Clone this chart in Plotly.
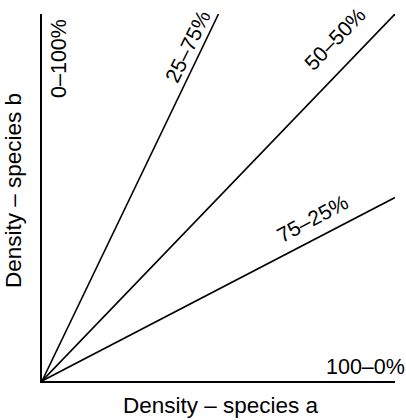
import plotly.graph_objects as go

# Data: ratio lines (species a share – species b share), drawn from origin
line_labels = ["25–75%", "50–50%", "75–25%"]
end_a = [0.5, 1.0, 1.0]   # density of species a at line end
end_b = [1.0, 1.0, 0.5]   # density of species b at line end

# label positions (data coords) and angles
label_a = [0.412, 0.830, 0.766]
label_b = [0.912, 0.934, 0.442]
label_angle = [-64, -46, -28]

edge_labels = ["0–100%", "100–0%"]
x_title = "Density – species a"
y_title = "Density – species b"

FONT = "Liberation Sans, Arial, Helvetica, sans-serif"
FS = 22.5
FS_LAB = 21

def ann(size=FS, **kw):
    fig.add_annotation(showarrow=False, xanchor="center", yanchor="middle",
                       font=dict(size=size, color="black", family=FONT), **kw)

fig = go.Figure()
for i, lab in enumerate(line_labels):
    fig.add_trace(go.Scatter(x=[0, end_a[i]], y=[0, end_b[i]], mode="lines",
                             line=dict(color="black", width=1.6),
                             showlegend=False, hoverinfo="skip"))
    ann(size=FS_LAB, x=label_a[i], y=label_b[i], text=lab, textangle=label_angle[i])

ann(size=FS_LAB + 0.5, x=0.048, y=0.880, text=edge_labels[0], textangle=-90)
ann(size=FS_LAB + 0.5, x=0.915, y=0.038, text=edge_labels[1], textangle=0)

ann(xref="paper", yref="paper", x=0.507, y=-0.066, text=x_title)
ann(xref="paper", yref="paper", x=-0.079, y=0.518, text=y_title, textangle=-90)

fig.update_xaxes(range=[0, 1], showgrid=False, zeroline=False, showticklabels=False,
                 ticks="", showline=True, linecolor="black", linewidth=1.6, automargin=False)
fig.update_yaxes(range=[0, 1], showgrid=False, zeroline=False, showticklabels=False,
                 ticks="", showline=True, linecolor="black", linewidth=1.6, automargin=False)

fig.update_layout(width=406, height=420, margin=dict(l=42, r=11, t=14, b=39),
                  plot_bgcolor="white", paper_bgcolor="white",
                  font=dict(family=FONT, color="black"))

fig.write_html("out.html", config={"displayModeBar": False},
               post_script="document.body.style.margin='0';document.body.style.overflow='hidden';")
